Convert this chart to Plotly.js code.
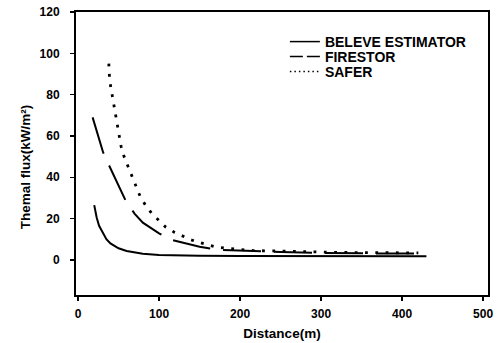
<!DOCTYPE html>
<html>
<head>
<meta charset="utf-8">
<script src="https://cdn.plot.ly/plotly-3.0.1.min.js"></script>
<style>html,body{margin:0;padding:0;background:#fff;}#chart{width:498px;height:343px;}</style>
</head>
<body>
<div id="chart"></div>
<script>
// Series names
const seriesNames = ["BELEVE ESTIMATOR", "FIRESTOR", "SAFER"];

// BELEVE ESTIMATOR (solid)
const beleveX = [20, 23, 26, 30, 35, 40, 45, 50, 60, 70, 80, 100, 125, 150, 200, 250, 300, 350, 400, 430];
const beleveY = [26.5, 20.5, 16.5, 13.5, 10, 8, 6.6, 5.6, 4.3, 3.5, 3.0, 2.4, 2.1, 2.0, 1.9, 1.8, 1.8, 1.8, 1.8, 1.8];

// FIRESTOR (long dashes)
const firestorX = [18, 25, 31, 38, 45, 52, 59, 65, 70, 80, 90, 100, 115, 131, 150, 172, 200, 250, 300, 350, 400, 430];
const firestorY = [69, 60, 52, 46, 40, 34, 28.5, 25, 22.3, 18, 15.2, 12.8, 9.7, 8.2, 6.4, 4.9, 4.4, 3.8, 3.3, 3.1, 3.0, 3.0];

// SAFER (dotted)
const saferX = [38, 39, 42.5, 45.4, 47.8, 50.3, 53.1, 56.8, 62.5, 67, 71.9, 76.4, 82.9, 90.7, 99.3, 108.2, 119.2, 129.4, 139.6, 149.8, 160, 170.3, 181.3, 192.6, 204, 216, 243, 280, 320, 360, 400, 420];
const saferY = [95, 87, 79, 72.8, 67, 61, 55, 50, 44.5, 39.6, 35.3, 31, 26.7, 22.6, 19.3, 15.9, 13.3, 11.3, 9.7, 8.4, 7.3, 6.2, 5.7, 5.2, 4.9, 4.5, 4.3, 3.9, 3.6, 3.5, 3.4, 3.4];

// Axis ticks and titles
const xTicks = [0, 100, 200, 300, 400, 500];
const yTicks = [0, 20, 40, 60, 80, 100, 120];
const xTitle = "Distance(m)";
const yTitle = "Themal flux(kW/m²)";

const FONT = "Liberation Sans, Arial, sans-serif";
const legFont = {family: FONT, size: 14, color: "#000", weight: "bold"};
function leg(y) {
  return {x: 0.507, y: y, xanchor: "left", yanchor: "middle",
          bgcolor: "rgba(0,0,0,0)", borderwidth: 0, font: legFont, itemwidth: 30};
}

const traces = [
  {x: beleveX, y: beleveY, mode: "lines", line: {color: "#000", width: 2}, showlegend: false, hoverinfo: "skip"},
  {x: firestorX, y: firestorY, mode: "lines", line: {color: "#000", width: 2, dash: "38px,13px"}, showlegend: false, hoverinfo: "skip"},
  {x: saferX, y: saferY, mode: "lines", line: {color: "#000", width: 2.8, dash: "2.8px,7.5px"}, showlegend: false, hoverinfo: "skip"},
  // legend entries
  {x: [null], y: [null], name: seriesNames[0], mode: "lines", line: {color: "#000", width: 1.5}, legend: "legend"},
  {x: [null], y: [null], name: seriesNames[1], mode: "lines", line: {color: "#000", width: 1.5, dash: "13px,4px"}, legend: "legend2"},
  {x: [null], y: [null], name: seriesNames[2], mode: "lines", line: {color: "#000", width: 1.5, dash: "1.5px,3px"}, legend: "legend3"}
];

const layout = {
  width: 498, height: 343,
  margin: {l: 76, r: 10, t: 12, b: 48},
  paper_bgcolor: "#fff", plot_bgcolor: "#fff",
  font: {family: FONT, color: "#000", size: 12, weight: "bold"},
  showlegend: true,
  legend: leg(0.894),
  legend2: leg(0.841),
  legend3: leg(0.788),
  xaxis: {
    range: [-2.5, 506], tickvals: xTicks, ticktext: xTicks.map(String),
    showgrid: false, zeroline: false,
    showline: true, linecolor: "#000", linewidth: 2, mirror: true,
    ticks: "outside", ticklen: 4, tickwidth: 1.5, tickcolor: "#000",
    tickfont: {family: FONT, size: 12, color: "#000", weight: "bold"},
    ticklabelstandoff: 3,
    title: {text: xTitle, font: {family: FONT, size: 13.5, color: "#000", weight: "bold"}, standoff: 8}
  },
  yaxis: {
    range: [-17, 120], tickvals: yTicks, ticktext: yTicks.map(String),
    showgrid: false, zeroline: false,
    showline: true, linecolor: "#000", linewidth: 2, mirror: true,
    ticks: "outside", ticklen: 4, tickwidth: 1.5, tickcolor: "#000",
    tickfont: {family: FONT, size: 12, color: "#000", weight: "bold"},
    ticklabelstandoff: 8
  },
  annotations: [{
    text: yTitle, xref: "paper", yref: "paper", x: -0.124, y: 0.455,
    xanchor: "center", yanchor: "middle", textangle: -90, showarrow: false,
    font: {family: FONT, size: 13.5, color: "#000", weight: "bold"}
  }]
};

Plotly.newPlot("chart", traces, layout, {staticPlot: true, displayModeBar: false});
</script>
</body>
</html>
